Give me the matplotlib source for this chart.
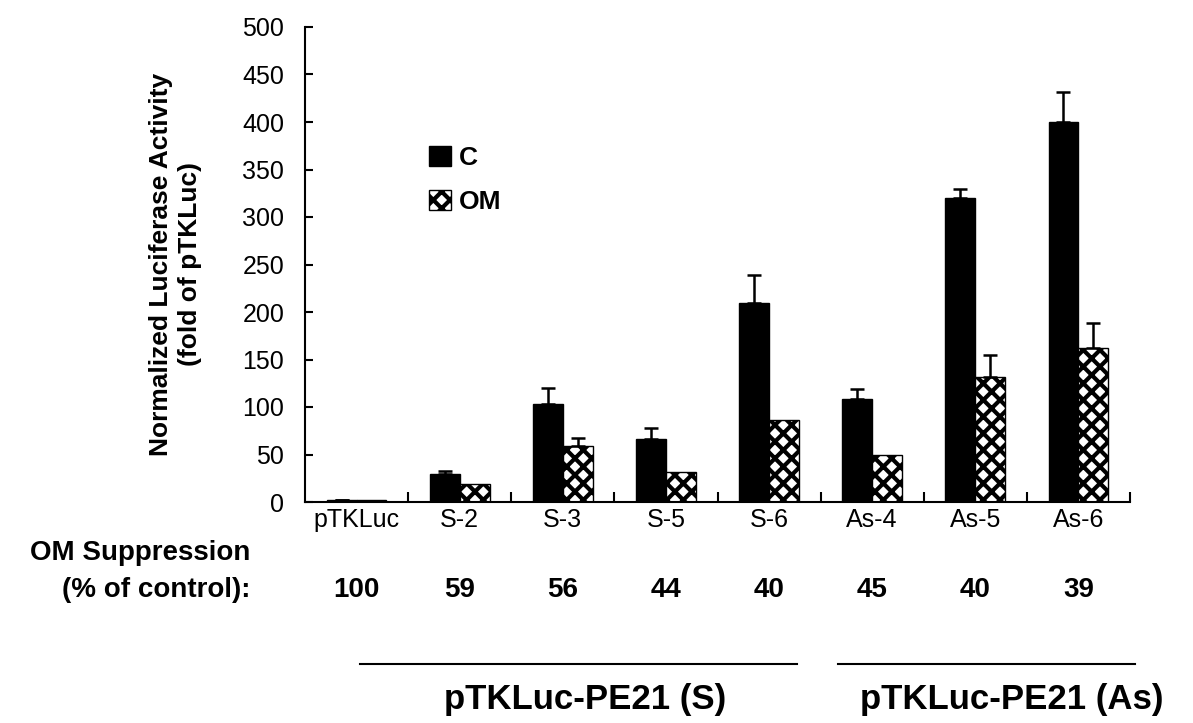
import numpy as np
import matplotlib
matplotlib.use("Agg")
import matplotlib.pyplot as plt
from matplotlib.patches import Patch

plt.rcParams['font.family'] = ['Liberation Sans', 'DejaVu Sans']
plt.rcParams['hatch.linewidth'] = 3.0

# data
groups = ['pTKLuc', 'S-2', 'S-3', 'S-5', 'S-6', 'As-4', 'As-5', 'As-6']
c_vals = [2, 29, 103, 66, 209, 108, 320, 400]
c_err = [0, 4, 17, 12, 30, 11, 9, 32]
om_vals = [2, 19, 59, 32, 86, 49, 132, 162]
om_err = [0, 0, 8, 0, 0, 0, 23, 26]
suppression = [100, 59, 56, 44, 40, 45, 40, 39]
y_ticks = list(range(0, 501, 50))

W, H = 1193, 723
fig = plt.figure(figsize=(W / 100, H / 100), dpi=100)
ax = fig.add_axes([305 / W, 1 - 502 / H, 825 / W, 475 / H])

x = np.arange(len(groups))
w = 0.29

ax.bar(x - w / 2, c_vals, w, color='black', edgecolor='black', linewidth=1)
ax.bar(x + w / 2, om_vals, w, color='white', edgecolor='black', hatch='xx', linewidth=1)

# one-sided error bars
ax.errorbar(x - w / 2, c_vals, yerr=[np.zeros(len(c_err)), c_err], fmt='none',
            ecolor='black', elinewidth=1.8, capsize=5, capthick=1.8)
om_x = [xi + w / 2 for xi, e in zip(x, om_err) if e > 0]
om_y = [v for v, e in zip(om_vals, om_err) if e > 0]
om_e = [e for e in om_err if e > 0]
ax.errorbar(om_x, om_y, yerr=[np.zeros(len(om_e)), om_e], fmt='none',
            ecolor='black', elinewidth=1.8, capsize=5, capthick=1.8)

ax.set_xlim(-0.5, len(groups) - 0.5)
ax.set_ylim(0, 500)
ax.spines['top'].set_visible(False)
ax.spines['right'].set_visible(False)
ax.spines['left'].set_linewidth(1.5)
ax.spines['bottom'].set_linewidth(1.5)

ax.set_yticks(y_ticks)
ax.tick_params(axis='y', direction='in', length=6, width=1.5, labelsize=18, pad=15)
ax.set_xticks(x)
ax.set_xticklabels(groups)
ax.tick_params(axis='x', which='major', length=0, labelsize=18, pad=4)
ax.set_xticks(np.arange(0.5, len(groups), 1.0), minor=True)
ax.tick_params(axis='x', which='minor', direction='in', length=7, width=1.5)

ax.set_ylabel('Normalized Luciferase Activity\n(fold of pTKLuc)', fontsize=19,
              fontweight='bold', labelpad=29, linespacing=1.25)

handles = [Patch(facecolor='black', edgecolor='black', label='C'),
           Patch(facecolor='white', edgecolor='black', hatch='xx', label='OM')]
ax.legend(handles=handles, loc='upper left', bbox_to_anchor=(0.122, 0.8),
          frameon=False, prop={'weight': 'bold', 'size': 19},
          handlelength=0.8, handleheight=0.8, handletextpad=0.3, labelspacing=0.75)

# suppression rows
fig.text(250 / W, 1 - 553 / H, 'OM Suppression', ha='right', va='center',
         fontsize=20, fontweight='bold')
fig.text(250 / W, 1 - 590 / H, '(% of control):', ha='right', va='center',
         fontsize=20, fontweight='bold')
trans = matplotlib.transforms.blended_transform_factory(ax.transData, fig.transFigure)
for xi, s in zip(x, suppression):
    ax.text(xi, 1 - 590 / H, str(s), transform=trans, ha='center', va='center',
            fontsize=20, fontweight='bold')

# construct group labels
fig.add_artist(plt.Line2D([360 / W, 797 / W], [1 - 664 / H] * 2, color='black', lw=1.5))
fig.add_artist(plt.Line2D([838 / W, 1135 / W], [1 - 664 / H] * 2, color='black', lw=1.5))
fig.text(585 / W, 1 - 700 / H, 'pTKLuc-PE21 (S)', ha='center', va='center',
         fontsize=25, fontweight='bold')
fig.text(1012 / W, 1 - 700 / H, 'pTKLuc-PE21 (As)', ha='center', va='center',
         fontsize=25, fontweight='bold')

fig.savefig('out.png', dpi=100)
